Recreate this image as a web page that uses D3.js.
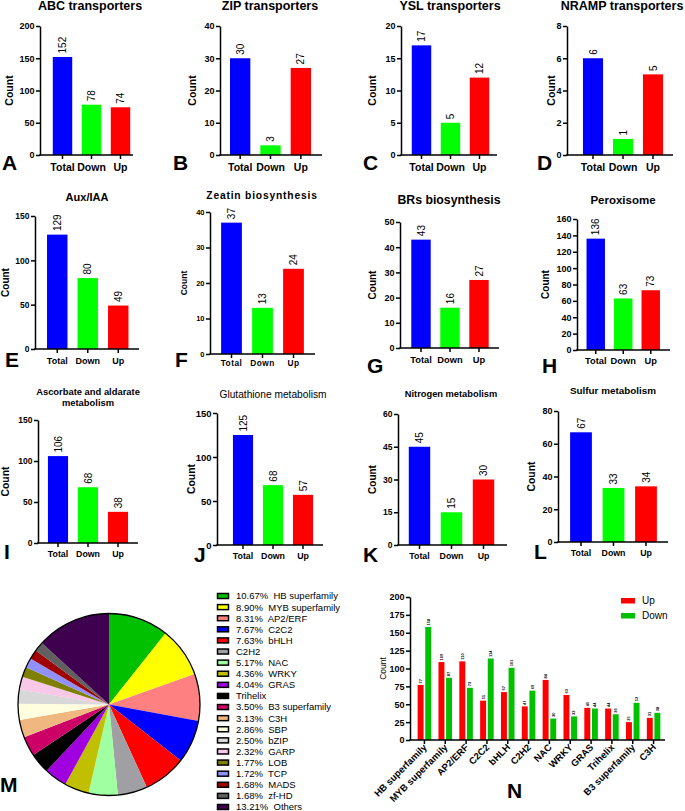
<!DOCTYPE html>
<html><head><meta charset="utf-8">
<script src="https://cdn.jsdelivr.net/npm/d3@7"></script>
<style>
body{margin:0;background:#fff}
svg{display:block}
text{font-family:"Liberation Sans",Arial,Helvetica,sans-serif;fill:#000}
</style>
</head><body>
<svg id="c" width="685" height="811"></svg>
<script>
// ---------- DATA ----------
const barCategories = ["Total", "Down", "Up"];
const barColors = ["#0000ff", "#00ff00", "#ff0000"];

const valuesABC = [152, 78, 74];
const valuesZIP = [30, 3, 27];
const valuesYSL = [17, 5, 12];
const valuesNRAMP = [6, 1, 5];
const valuesAuxIAA = [129, 80, 49];
const valuesZeatin = [37, 13, 24];
const valuesBRs = [43, 16, 27];
const valuesPeroxisome = [136, 63, 73];
const valuesAscorbate = [106, 68, 38];
const valuesGlutathione = [125, 68, 57];
const valuesNitrogen = [45, 15, 30];
const valuesSulfur = [67, 33, 34];

const ticksABC = [0, 50, 100, 150, 200];
const ticksZIP = [0, 10, 20, 30, 40];
const ticksYSL = [0, 5, 10, 15, 20];
const ticksNRAMP = [0, 2, 4, 6, 8];
const ticksAuxIAA = [0, 50, 100, 150];
const ticksZeatin = [0, 10, 20, 30, 40];
const ticksBRs = [0, 10, 20, 30, 40, 50];
const ticksPeroxisome = [0, 20, 40, 60, 80, 100, 120, 140, 160];
const ticksAscorbate = [0, 50, 100, 150];
const ticksGlutathione = [0, 50, 100, 150];
const ticksNitrogen = [0, 15, 30, 45, 60];
const ticksSulfur = [0, 20, 40, 60, 80];

const pieFamilies = ["HB superfamily","MYB superfamily","AP2/ERF","C2C2","bHLH","C2H2","NAC","WRKY","GRAS","Trihelix","B3 superfamily","C3H","SBP","bZIP","GARP","LOB","TCP","MADS","zf-HD","Others"];
const pieLegendPercents = ["10.67","8.90","8.31","7.67","7.63",null,"5.17","4.36","4.04",null,"3.50","3.13","2.86","2.50","2.32","1.77","1.72","1.68","1.68","13.21"];
const pieShares = [10.67, 8.90, 8.31, 7.67, 7.63, 5.27, 5.17, 4.36, 4.04, 3.61, 3.50, 3.13, 2.86, 2.50, 2.32, 1.77, 1.72, 1.68, 1.68, 13.21];
const pieColors = ["#00c000","#ffff00","#ff8080","#0000ff","#ff0000","#a0a0a4","#a0ffa0","#c0c000","#a000e0","#000000","#cc0066","#f0b880","#ffffe0","#d8d8d8","#f8c8e8","#808000","#9090ff","#a00000","#606060","#400050"];

const nFamilies = ["HB superfamily","MYB superfamily","AP2/ERF","C2C2","bHLH","C2H2","NAC","WRKY","GRAS","Trihelix","B3 superfamily","C3H"];
const nUp   = [77, 109, 110, 55, 67, 47, 84, 63, 45, 44, 25, 31];
const nDown = [158, 87, 73, 114, 101, 69, 30, 33, 44, 36, 52, 38];
const nTicks = [0, 25, 50, 75, 100, 125, 150, 175, 200];
const nSeries = ["Up", "Down"];
const nColors = ["#ff0000", "#00c000"];

// ---------- LAYOUT ----------
const panels = [
  {title:["ABC transporters"], values:valuesABC, ticks:ticksABC, letter:"A",
   yx:40, yTop:26, y0:155, xEnd:133, band:[48,135], countX:9, tx:90, ty:10, tfs:12.5, tw:"bold",
   lx:2, ly:170, tickFs:9, labFs:10.5, labDy:16, countFs:10.5},
  {title:["ZIP transporters"], values:valuesZIP, ticks:ticksZIP, letter:"B",
   yx:220, yTop:26, y0:155, xEnd:322, band:[225,316], countX:192, tx:270, ty:10, tfs:12.5, tw:"bold",
   lx:173, ly:170, tickFs:9, labFs:10.5, labDy:16, countFs:10.5},
  {title:["YSL transporters"], values:valuesYSL, ticks:ticksYSL, letter:"C",
   yx:401, yTop:26, y0:155, xEnd:497, band:[407,494], countX:372, tx:450, ty:10, tfs:12.5, tw:"bold",
   lx:363, ly:170, tickFs:9, labFs:10.5, labDy:16, countFs:10.5},
  {title:["NRAMP transporters"], values:valuesNRAMP, ticks:ticksNRAMP, letter:"D",
   yx:567, yTop:26, y0:155, xEnd:673, band:[578,668], countX:551, tx:622, ty:10, tfs:12.5, tw:"bold",
   lx:537, ly:170, tickFs:9, labFs:10.5, labDy:16, countFs:10.5},
  {title:["Aux/IAA"], values:valuesAuxIAA, ticks:ticksAuxIAA, letter:"E",
   yx:35, yTop:216, y0:349, xEnd:139, band:[42,133.5], countX:5, tx:87, ty:201, tfs:11, tw:"bold",
   lx:5, ly:367, tickFs:8.5, labFs:9, labDy:15, countFs:10},
  {title:["Zeatin biosynthesis"], values:valuesZeatin, ticks:ticksZeatin, letter:"F",
   yx:210, yTop:212, y0:354, xEnd:315, band:[216,309], countX:183, tx:262, ty:199, tfs:10.3, tw:"bold", ls:0.8,
   lx:175, ly:367, tickFs:7.5, labFs:8.3, labDy:12, countFs:8.5, labLs:0.5},
  {title:["BRs biosynthesis"], values:valuesBRs, ticks:ticksBRs, letter:"G",
   yx:400, yTop:222, y0:348, xEnd:499, band:[406.5,493.5], countX:372, tx:449, ty:204, tfs:12.3, tw:"bold",
   lx:367, ly:373, tickFs:9, labFs:9.3, labDy:15, countFs:10},
  {title:["Peroxisome"], values:valuesPeroxisome, ticks:ticksPeroxisome, letter:"H",
   yx:577, yTop:219, y0:350, xEnd:670, band:[582,664.5], countX:545, tx:623, ty:204, tfs:11.5, tw:"bold",
   lx:542, ly:373, tickFs:9, labFs:9.3, labDy:14, countFs:10},
  {title:["Ascorbate and aldarate","metabolism"], values:valuesAscorbate, ticks:ticksAscorbate, letter:"I",
   yx:38, yTop:420, y0:543, xEnd:138, band:[43,133], countX:5, tx:88, ty:395, tfs:9.4, tw:"bold",
   lx:4, ly:559, tickFs:8.5, labFs:8.8, labDy:14, countFs:10.4},
  {title:["Glutathione metabolism"], values:valuesGlutathione, ticks:ticksGlutathione, letter:"J",
   yx:217, yTop:413, y0:545, xEnd:323, band:[228,318], countX:191, tx:273, ty:398, tfs:10.2, tw:"normal",
   lx:194, ly:562, tickFs:9.5, labFs:8.8, labDy:14, countFs:10.4},
  {title:["Nitrogen metabolism"], values:valuesNitrogen, ticks:ticksNitrogen, letter:"K",
   yx:398, yTop:414, y0:545, xEnd:507, band:[403.5,499.5], countX:372, tx:451, ty:397, tfs:9.3, tw:"bold",
   lx:363, ly:562, tickFs:8.5, labFs:8.8, labDy:14, countFs:10},
  {title:["Sulfur metabolism"], values:valuesSulfur, ticks:ticksSulfur, letter:"L",
   yx:558, yTop:411, y0:542, xEnd:668, band:[564.75,662.25], countX:531, tx:613, ty:394, tfs:9.9, tw:"bold",
   lx:534, ly:559, tickFs:9, labFs:8.8, labDy:14, countFs:10.4}
];

const svg = d3.select("#c");

function styleAxis(g) {
  g.selectAll("path,line").attr("stroke", "#000").attr("stroke-width", 1.5);
}

panels.forEach(p => {
  const g = svg.append("g");
  const y = d3.scaleLinear().domain([0, d3.max(p.ticks)]).range([p.y0, p.yTop]);
  const x = d3.scaleBand().domain(barCategories).range(p.band).paddingInner(0.33).paddingOuter(0.165);

  // bars
  g.selectAll("rect.bar").data(p.values).join("rect")
    .attr("x", (d, i) => x(barCategories[i]))
    .attr("width", x.bandwidth())
    .attr("y", d => y(d))
    .attr("height", d => y(0) - y(d))
    .attr("fill", (d, i) => barColors[i]);

  // value labels
  g.selectAll("text.val").data(p.values).join("text")
    .attr("transform", (d, i) => `translate(${x(barCategories[i]) + x.bandwidth()/2 + 3.5},${y(d) - 3.5}) rotate(-90)`)
    .attr("font-size", 10)
    .text(d => d);

  // y axis
  const ya = g.append("g").attr("transform", `translate(${p.yx},0)`)
    .call(d3.axisLeft(y).tickValues(p.ticks).tickSize(4).tickSizeOuter(0).tickPadding(1.5));
  styleAxis(ya);
  ya.selectAll("text").attr("font-size", p.tickFs).attr("font-weight", "bold")
    .attr("font-family", null).attr("fill", "#000");

  // x axis
  const xa = g.append("g").attr("transform", `translate(0,${p.y0})`)
    .call(d3.axisBottom(x).tickSize(4).tickSizeOuter(0).tickPadding(2));
  xa.select(".domain").remove();
  styleAxis(xa);
  xa.selectAll("text").attr("font-size", p.labFs).attr("font-weight", "bold")
    .attr("font-family", null).attr("fill", "#000")
    .attr("y", null).attr("dy", null)
    .attr("transform", `translate(0,${p.labDy})`)
    .style("letter-spacing", p.labLs ? p.labLs + "px" : null);
  g.append("line").attr("x1", p.yx - 0.75).attr("x2", p.xEnd).attr("y1", p.y0).attr("y2", p.y0)
    .attr("stroke", "#000").attr("stroke-width", 1.5);

  // count
  g.append("text")
    .attr("transform", `translate(${p.countX + 3.5},${(p.y0 + p.yTop) / 2}) rotate(-90)`)
    .attr("text-anchor", "middle").attr("font-size", p.countFs).attr("font-weight", "bold")
    .text("Count");

  // title
  const t = g.append("text").attr("text-anchor", "middle").attr("font-size", p.tfs)
    .attr("font-weight", p.tw).style("letter-spacing", p.ls ? p.ls + "px" : null);
  p.title.forEach((line, i) => {
    t.append("tspan").attr("x", p.tx).attr("y", p.ty + i * 11).text(line);
  });

  // letter
  g.append("text").attr("x", p.lx).attr("y", p.ly).attr("font-size", 21)
    .attr("font-weight", "bold").text(p.letter);
});

// ---------- PIE (M) ----------
const pieG = svg.append("g").attr("transform", "translate(109,704.5)");
const pie = d3.pie().sort(null).value(d => d);
const arc = d3.arc().innerRadius(0).outerRadius(91);
pieG.selectAll("path").data(pie(pieShares)).join("path")
  .attr("d", arc).attr("fill", (d, i) => pieColors[i]);
pieG.append("circle").attr("r", 91).attr("fill", "none").attr("stroke", "#000").attr("stroke-width", 1.3);

svg.append("text").attr("x", 0).attr("y", 792).attr("font-size", 21).attr("font-weight", "bold").text("M");

const leg = svg.append("g");
const rowY = d3.scaleLinear().domain([0, pieFamilies.length - 1]).range([596, 807]);
pieFamilies.forEach((name, i) => {
  const cy = rowY(i);
  leg.append("rect").attr("x", 217.5).attr("y", cy - 2.5).attr("width", 11).attr("height", 5)
    .attr("fill", pieColors[i]).attr("stroke", "#000").attr("stroke-width", 1.5);
  const pct = pieLegendPercents[i];
  leg.append("text").attr("x", 236).attr("y", cy + 3.4).attr("font-size", 9.5)
    .style("white-space", "pre")
    .text(pct ? `${pct}%  ${name}` : name);
});

// ---------- GROUPED BARS (N) ----------
const nG = svg.append("g");
const ny = d3.scaleLinear().domain([0, 200]).range([740, 597]);
const nx = d3.scaleBand().domain(nFamilies).range([414, 664]).paddingInner(0.35).paddingOuter(0.175);
const nx1 = d3.scaleBand().domain(nSeries).range([0, nx.bandwidth()]).paddingInner(0.22);
const nData = nFamilies.map((f, i) => ({f, vals: [nUp[i], nDown[i]]}));

const grp = nG.selectAll("g.grp").data(nData).join("g")
  .attr("transform", d => `translate(${nx(d.f)},0)`);
grp.selectAll("rect").data(d => d.vals).join("rect")
  .attr("x", (d, i) => nx1(nSeries[i]))
  .attr("width", nx1.bandwidth())
  .attr("y", d => ny(d))
  .attr("height", d => ny(0) - ny(d))
  .attr("fill", (d, i) => nColors[i]);
grp.selectAll("text").data(d => d.vals).join("text")
  .attr("transform", (d, i) => `translate(${nx1(nSeries[i]) + nx1.bandwidth()/2 + 1.4},${ny(d) - 1.5}) rotate(-90)`)
  .attr("font-size", 4).attr("font-weight", "bold")
  .text(d => d);

const nya = nG.append("g").attr("transform", "translate(410,0)")
  .call(d3.axisLeft(ny).tickValues(nTicks).tickSize(4).tickSizeOuter(0).tickPadding(1.5));
styleAxis(nya);
nya.selectAll("text").attr("font-size", 9).attr("font-weight", "bold").attr("font-family", null).attr("fill", "#000");

const nxa = nG.append("g").attr("transform", "translate(0,740)")
  .call(d3.axisBottom(nx).tickSize(4).tickSizeOuter(0));
nxa.select(".domain").remove();
styleAxis(nxa);
nxa.selectAll("text").attr("font-size", 9.5).attr("font-weight", "bold").attr("font-family", null)
  .attr("fill", "#000").attr("y", null).attr("dy", null)
  .attr("text-anchor", "end")
  .attr("transform", "translate(3,8) rotate(-45)");
nG.append("line").attr("x1", 409.25).attr("x2", 665).attr("y1", 740).attr("y2", 740)
  .attr("stroke", "#000").attr("stroke-width", 1.5);

nG.append("text").attr("transform", "translate(386,668.5) rotate(-90)")
  .attr("text-anchor", "middle").attr("font-size", 8.5).text("Count");

// legend N
nSeries.forEach((s, i) => {
  const yy = 598 + i * 15;
  nG.append("rect").attr("x", 621).attr("y", yy).attr("width", 14).attr("height", 5.5).attr("fill", nColors[i]);
  nG.append("text").attr("x", 642).attr("y", yy + 6).attr("font-size", 10).text(s);
});

svg.append("text").attr("x", 507).attr("y", 798).attr("font-size", 21).attr("font-weight", "bold").text("N");
</script>
</body></html>
